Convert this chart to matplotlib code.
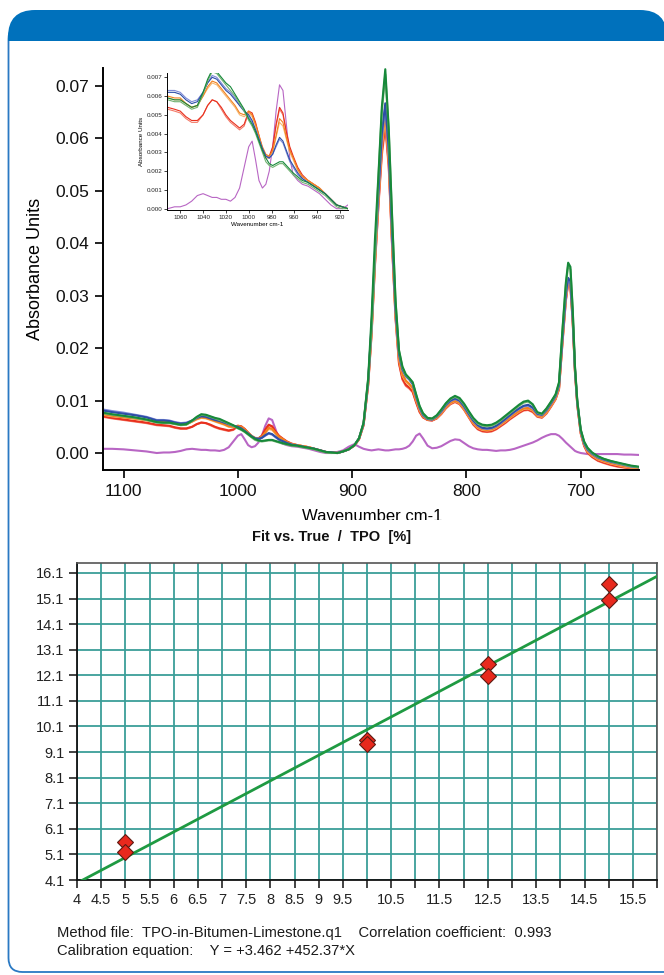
import numpy as np
import matplotlib
matplotlib.use("Agg")
import matplotlib.pyplot as plt
from matplotlib.patches import FancyBboxPatch, Rectangle
from matplotlib.transforms import Bbox, TransformedBbox

# ---------------- data: spectra ----------------
wavenumber = [
    1118, 1110, 1100, 1090, 1080, 1071, 1065, 1060, 1055, 1050,
    1045, 1040, 1036, 1032, 1028, 1024, 1020, 1016, 1012, 1008,
    1004, 1000, 997, 994, 991, 988, 985, 982, 979, 976,
    973, 970, 967, 964, 961, 957, 953, 948, 943, 938,
    933, 928, 923, 918, 913, 908, 903, 898, 894, 890,
    886, 883, 880, 877, 874, 871, 868, 865, 862, 859,
    856, 853, 850, 847, 844, 841, 838, 834, 830, 826,
    822, 818, 814, 810, 806, 802, 798, 794, 790, 786,
    782, 778, 774, 770, 766, 762, 758, 754, 750, 746,
    742, 738, 734, 730, 726, 722, 719, 716, 713, 711,
    709, 707, 705, 703, 700, 697, 694, 690, 685, 680,
    674, 668, 662, 656, 646]

abs_purple = [
    .0008, .0008, .0007, .0005, .0003, .0000, .0001, .0001, .0002, .0004,
    .0007, .0008, .0007, .0006, .0006, .0005, .0005, .0004, .0006, .0011,
    .0022, .0033, .0036, .0026, .0015, .0011, .0013, .0020, .0033, .0052,
    .0066, .0063, .0045, .0027, .0018, .0015, .0013, .0012, .0010, .0008,
    .0005, .0002, .0000, .0000, .0002, .0005, .0012, .0017, .0012, .0008,
    .0006, .0005, .0006, .0007, .0006, .0005, .0005, .0006, .0007, .0007,
    .0008, .0010, .0014, .0022, .0033, .0037, .0028, .0014, .0009, .0010,
    .0013, .0018, .0023, .0026, .0025, .0019, .0013, .0009, .0007, .0006,
    .0006, .0005, .0004, .0005, .0005, .0006, .0008, .0011, .0014, .0017,
    .0020, .0024, .0029, .0033, .0036, .0036, .0033, .0027, .0020, .0016,
    .0012, .0008, .0004, .0002, .0000, -.0001, -.0002, -.0002, -.0002, -.0002,
    -.0002, -.0002, -.0003, -.0003, -.0004]

abs_salmon = [
    .0069, .0066, .0063, .0060, .0057, .0053, .0052, .0051, .0048, .0046,
    .0046, .0050, .0055, .0058, .0057, .0053, .0049, .0046, .0044, .0042,
    .0044, .0051, .0050, .0045, .0038, .0031, .0027, .0027, .0032, .0044,
    .0053, .0050, .0040, .0032, .0027, .0021, .0017, .0015, .0013, .0011,
    .0008, .0005, .0002, .0001, .0000, .0003, .0007, .0014, .0026, .0053,
    .0128, .0225, .0358, .0470, .0568, .0622, .0545, .0392, .0255, .0170,
    .0140, .0128, .0123, .0116, .0096, .0078, .0068, .0063, .0062, .0066,
    .0074, .0085, .0093, .0097, .0093, .0082, .0068, .0054, .0045, .0041,
    .0040, .0041, .0045, .0051, .0057, .0064, .0070, .0076, .0081, .0082,
    .0078, .0069, .0067, .0075, .0088, .0102, .0121, .0208, .0290, .0322,
    .0316, .0248, .0153, .0091, .0037, .0013, .0000, -.0008, -.0015, -.0019,
    -.0023, -.0026, -.0028, -.0029, -.0030]

abs_red = [
    .0070, .0067, .0064, .0061, .0058, .0054, .0053, .0052, .0049, .0047,
    .0047, .0050, .0055, .0058, .0057, .0054, .0050, .0047, .0045, .0043,
    .0045, .0052, .0051, .0046, .0039, .0032, .0028, .0028, .0033, .0045,
    .0054, .0051, .0041, .0033, .0028, .0022, .0018, .0015, .0013, .0011,
    .0008, .0005, .0002, .0001, .0000, .0003, .0007, .0014, .0026, .0053,
    .0130, .0228, .0362, .0475, .0575, .0630, .0550, .0395, .0258, .0172,
    .0142, .0130, .0125, .0117, .0097, .0079, .0068, .0063, .0062, .0066,
    .0075, .0086, .0094, .0098, .0094, .0083, .0069, .0055, .0046, .0042,
    .0041, .0042, .0046, .0052, .0058, .0065, .0071, .0077, .0082, .0083,
    .0079, .0070, .0068, .0076, .0089, .0103, .0122, .0210, .0292, .0324,
    .0318, .0250, .0154, .0092, .0038, .0014, .0001, -.0007, -.0014, -.0018,
    -.0022, -.0025, -.0027, -.0029, -.0030]

abs_lightorange = [
    .0073, .0070, .0068, .0065, .0062, .0059, .0058, .0058, .0056, .0054,
    .0055, .0060, .0064, .0067, .0066, .0063, .0060, .0057, .0054, .0050,
    .0049, .0051, .0049, .0044, .0038, .0032, .0028, .0027, .0030, .0038,
    .0046, .0044, .0037, .0030, .0026, .0020, .0017, .0015, .0013, .0011,
    .0008, .0005, .0002, .0001, .0000, .0003, .0007, .0015, .0027, .0055,
    .0132, .0232, .0368, .0482, .0585, .0640, .0558, .0400, .0262, .0178,
    .0148, .0136, .0130, .0122, .0101, .0082, .0070, .0064, .0063, .0067,
    .0076, .0087, .0095, .0099, .0095, .0084, .0070, .0057, .0048, .0044,
    .0043, .0044, .0048, .0054, .0060, .0067, .0073, .0079, .0084, .0085,
    .0081, .0071, .0069, .0077, .0090, .0104, .0124, .0212, .0295, .0328,
    .0321, .0253, .0156, .0094, .0040, .0016, .0003, -.0005, -.0012, -.0016,
    -.0020, -.0023, -.0026, -.0028, -.0029]

abs_orange = [
    .0074, .0071, .0068, .0066, .0063, .0060, .0059, .0059, .0056, .0054,
    .0055, .0060, .0065, .0068, .0067, .0064, .0061, .0058, .0055, .0051,
    .0050, .0052, .0050, .0045, .0039, .0033, .0029, .0028, .0031, .0039,
    .0048, .0046, .0038, .0031, .0027, .0021, .0017, .0015, .0013, .0011,
    .0008, .0005, .0002, .0001, .0000, .0003, .0007, .0015, .0027, .0055,
    .0133, .0235, .0372, .0488, .0592, .0648, .0565, .0405, .0265, .0180,
    .0150, .0138, .0132, .0124, .0102, .0083, .0070, .0064, .0063, .0068,
    .0077, .0088, .0096, .0100, .0096, .0085, .0071, .0058, .0049, .0045,
    .0044, .0045, .0049, .0055, .0061, .0068, .0074, .0080, .0085, .0086,
    .0082, .0072, .0070, .0078, .0091, .0105, .0125, .0215, .0298, .0330,
    .0323, .0255, .0157, .0095, .0041, .0017, .0004, -.0004, -.0011, -.0015,
    -.0019, -.0022, -.0025, -.0027, -.0029]

abs_lightblue = [
    .0083, .0080, .0077, .0073, .0069, .0063, .0063, .0062, .0059, .0057,
    .0058, .0062, .0067, .0071, .0070, .0067, .0064, .0062, .0059, .0055,
    .0052, .0049, .0046, .0042, .0037, .0032, .0028, .0027, .0029, .0033,
    .0037, .0035, .0030, .0025, .0022, .0018, .0016, .0014, .0012, .0010,
    .0008, .0005, .0002, .0001, .0000, .0003, .0007, .0015, .0028, .0056,
    .0135, .0240, .0378, .0495, .0602, .0660, .0575, .0415, .0272, .0188,
    .0158, .0146, .0140, .0131, .0107, .0086, .0072, .0065, .0064, .0070,
    .0079, .0091, .0099, .0103, .0099, .0088, .0074, .0061, .0052, .0047,
    .0046, .0047, .0051, .0057, .0064, .0071, .0078, .0084, .0089, .0090,
    .0085, .0074, .0072, .0081, .0094, .0108, .0128, .0218, .0300, .0330,
    .0324, .0257, .0158, .0096, .0042, .0018, .0006, -.0002, -.0009, -.0013,
    -.0017, -.0020, -.0023, -.0026, -.0028]

abs_blue = [
    .0081, .0078, .0075, .0072, .0068, .0062, .0062, .0061, .0058, .0056,
    .0057, .0062, .0067, .0070, .0069, .0066, .0063, .0061, .0058, .0055,
    .0052, .0050, .0047, .0042, .0037, .0032, .0028, .0027, .0029, .0034,
    .0038, .0036, .0031, .0026, .0023, .0019, .0016, .0014, .0012, .0010,
    .0008, .0005, .0002, .0001, .0000, .0003, .0007, .0015, .0028, .0056,
    .0137, .0245, .0385, .0500, .0610, .0667, .0580, .0420, .0275, .0190,
    .0160, .0147, .0141, .0132, .0108, .0087, .0073, .0065, .0064, .0070,
    .0080, .0092, .0100, .0104, .0100, .0089, .0075, .0062, .0053, .0048,
    .0047, .0048, .0052, .0058, .0065, .0072, .0079, .0085, .0090, .0092,
    .0087, .0075, .0073, .0082, .0095, .0109, .0130, .0220, .0305, .0334,
    .0328, .0260, .0160, .0097, .0043, .0019, .0007, -.0001, -.0008, -.0012,
    -.0016, -.0019, -.0022, -.0025, -.0028]

abs_lightgreen = [
    .0076, .0073, .0070, .0067, .0063, .0058, .0057, .0057, .0055, .0053,
    .0054, .0061, .0068, .0073, .0072, .0069, .0066, .0063, .0060, .0056,
    .0052, .0047, .0044, .0040, .0035, .0030, .0025, .0023, .0022, .0023,
    .0024, .0024, .0022, .0020, .0018, .0016, .0014, .0013, .0011, .0009,
    .0007, .0004, .0001, .0000, .0000, .0003, .0007, .0015, .0028, .0057,
    .0140, .0238, .0376, .0525, .0652, .0722, .0615, .0445, .0287, .0195,
    .0163, .0148, .0142, .0134, .0111, .0089, .0075, .0066, .0065, .0071,
    .0082, .0094, .0103, .0107, .0103, .0092, .0078, .0065, .0056, .0052,
    .0051, .0052, .0056, .0062, .0069, .0076, .0083, .0090, .0096, .0098,
    .0092, .0077, .0074, .0084, .0097, .0111, .0133, .0232, .0320, .0358,
    .0350, .0272, .0163, .0099, .0044, .0021, .0009, .0000, -.0007, -.0011,
    -.0015, -.0019, -.0022, -.0025, -.0028]

abs_green = [
    .0077, .0074, .0071, .0068, .0064, .0059, .0058, .0058, .0056, .0054,
    .0055, .0062, .0069, .0074, .0073, .0070, .0067, .0065, .0061, .0057,
    .0053, .0048, .0045, .0041, .0036, .0031, .0027, .0024, .0023, .0024,
    .0025, .0025, .0023, .0021, .0019, .0017, .0015, .0014, .0012, .0010,
    .0008, .0005, .0002, .0001, .0000, .0003, .0007, .0015, .0028, .0058,
    .0142, .0260, .0410, .0530, .0660, .0732, .0620, .0450, .0290, .0196,
    .0165, .0150, .0143, .0135, .0112, .0090, .0076, .0067, .0066, .0072,
    .0083, .0095, .0104, .0109, .0105, .0094, .0080, .0067, .0058, .0054,
    .0053, .0054, .0058, .0064, .0071, .0078, .0085, .0092, .0098, .0100,
    .0093, .0078, .0075, .0085, .0098, .0112, .0135, .0235, .0325, .0363,
    .0355, .0275, .0165, .0100, .0045, .0022, .0010, .0001, -.0006, -.0011,
    -.0015, -.0018, -.0021, -.0024, -.0027]

series_order = ["purple", "salmon", "red", "lightorange", "orange",
                "lightblue", "blue", "lightgreen", "green"]
series_values = {"purple": abs_purple, "salmon": abs_salmon, "red": abs_red,
                 "lightorange": abs_lightorange, "orange": abs_orange,
                 "lightblue": abs_lightblue, "blue": abs_blue,
                 "lightgreen": abs_lightgreen, "green": abs_green}
series_colors = {"purple": "#b866c4", "salmon": "#f47a68", "red": "#e8301e",
                 "lightorange": "#f7b870", "orange": "#f2801e",
                 "lightblue": "#7f8ad8", "blue": "#2d4ea6",
                 "lightgreen": "#72b272", "green": "#17893a"}

main_xticks = [1100, 1000, 900, 800, 700]
main_yticks = [0.00, 0.01, 0.02, 0.03, 0.04, 0.05, 0.06, 0.07]
inset_xticks = [1060, 1040, 1020, 1000, 980, 960, 940, 920]
inset_yticks = [0.000, 0.001, 0.002, 0.003, 0.004, 0.005, 0.006, 0.007]

# ---------------- data: calibration ----------------
true_tpo = [5, 5, 10, 10, 12.5, 12.5, 15, 15]
fit_tpo = [5.58, 5.20, 9.56, 9.43, 12.54, 12.07, 15.65, 15.06]
fit_line_x = [4.0, 16.0]
fit_line_y = [3.98, 15.97]
cal_xticks = [4, 4.5, 5, 5.5, 6, 6.5, 7, 7.5, 8, 8.5, 9, 9.5, 10, 10.5, 11,
              11.5, 12, 12.5, 13, 13.5, 14, 14.5, 15, 15.5, 16]
cal_xticklabels = ["4", "4.5", "5", "5.5", "6", "6.5", "7", "7.5", "8", "8.5",
                   "9", "9.5", "", "10.5", "", "11.5", "", "12.5", "", "13.5",
                   "", "14.5", "", "15.5", ""]
cal_yticks = [4.1, 5.1, 6.1, 7.1, 8.1, 9.1, 10.1, 11.1, 12.1, 13.1, 14.1, 15.1, 16.1]
cal_yticklabels = ["4.1", "5.1", "6.1", "7.1", "8.1", "9.1", "10.1", "11.1",
                   "12.1", "13.1", "14.1", "15.1", "16.1"]

# ---------------- fonts ----------------
plt.rcParams["font.family"] = ["Liberation Sans", "DejaVu Sans"]

W, H = 664, 975
fig = plt.figure(figsize=(W / 100, H / 100), dpi=100)


def fx(px):
    return px / W


def fy(py):
    return 1 - py / H


# ---------------- background panel ----------------
bg = fig.add_axes([0, 0, 1, 1], zorder=-10)
bg.set_xlim(0, W)
bg.set_ylim(H, 0)
bg.axis("off")
panel = FancyBboxPatch((8.5, 25), 700, 947, boxstyle="round,pad=0,rounding_size=14",
                       fc="white", ec="#2a79c3", lw=1.3)
bg.add_patch(panel)
header = FancyBboxPatch((8, 10), 659, 90, boxstyle="round,pad=0,rounding_size=27",
                        fc="#0071bc", ec="none")
bg.add_patch(header)
header.set_clip_path(Rectangle((0, 0), W, 41, transform=bg.transData))

# ---------------- main spectrum ----------------
ax = fig.add_axes([fx(103), fy(470), fx(639 - 103), (470 - 68) / H])
for name in series_order:
    ax.plot(wavenumber, series_values[name], color=series_colors[name], lw=1.5,
            solid_joinstyle="round")
ax.set_xlim(1118, 649)
ax.set_ylim(-0.00324, 0.07343)
ax.set_xticks(main_xticks)
ax.set_xticklabels([str(v) for v in main_xticks])
ax.set_yticks(main_yticks)
ax.set_yticklabels([f"{v:.2f}" for v in main_yticks])
for s in ["top", "right"]:
    ax.spines[s].set_visible(False)
for s in ["left", "bottom"]:
    ax.spines[s].set_linewidth(1.4)
ax.tick_params(direction="out", length=6, width=1.3, labelsize=12.5, pad=4,
               colors="#111111")
ax.set_ylabel("Absorbance Units", fontsize=13, labelpad=8)

xl = fig.text(fx(372), fy(509), "Wavenumber cm-1", ha="center", va="top", fontsize=12)
xl.set_clip_box(TransformedBbox(Bbox([[0, fy(519.5)], [1, 1]]), fig.transFigure))
xl.set_clip_on(True)

# ---------------- inset ----------------
axi = fig.add_axes([fx(167), fy(210), fx(181), 137 / H])
for name in series_order:
    axi.plot(wavenumber, series_values[name], color=series_colors[name], lw=0.8)
axi.set_xlim(1071.6, 913)
axi.set_ylim(-0.00007, 0.00723)
axi.set_xticks(inset_xticks)
axi.set_xticklabels([str(v) for v in inset_xticks])
axi.set_yticks(inset_yticks)
axi.set_yticklabels([f"{v:.3f}" for v in inset_yticks])
for s in ["top", "right"]:
    axi.spines[s].set_visible(False)
for s in ["left", "bottom"]:
    axi.spines[s].set_linewidth(0.7)
axi.tick_params(direction="out", length=2, width=0.6, labelsize=4.5, pad=1.5,
                colors="#222222")
axi.set_ylabel("Absorbance Units", fontsize=4.5, labelpad=2)
axi.set_xlabel("Wavenumber cm-1", fontsize=4.5, labelpad=1.5)

# ---------------- calibration plot ----------------
fig.text(fx(332), fy(536.5), "Fit vs. True  /  TPO  [%]", ha="center", va="center",
         fontsize=10.5, fontweight="bold", color="#111111")

ax2 = fig.add_axes([fx(77), fy(880), fx(580), 317 / H])
ax2.set_xlim(4.0, 16.0)
ax2.set_ylim(4.1, 16.49)
ax2.set_xticks(cal_xticks)
ax2.set_xticklabels(cal_xticklabels)
ax2.set_yticks(cal_yticks)
ax2.set_yticklabels(cal_yticklabels)
ax2.grid(True, color="#3b9e99", lw=1.3)
ax2.set_axisbelow(True)
ax2.plot(fit_line_x, fit_line_y, color="#1f9a42", lw=2.0, zorder=3)
ax2.plot(true_tpo, fit_tpo, linestyle="none", marker="D", ms=8.5,
         mfc="#e8291d", mec="#5c1a12", mew=0.8, zorder=4)
for s in ["left", "bottom"]:
    ax2.spines[s].set_color("#111111")
    ax2.spines[s].set_linewidth(1.3)
for s in ["top", "right"]:
    ax2.spines[s].set_color("#555555")
    ax2.spines[s].set_linewidth(1.2)
ax2.tick_params(direction="out", length=6, width=1.2, labelsize=10.5, pad=3,
                colors="#222222")

fig.text(fx(57), fy(933), "Method file:  TPO-in-Bitumen-Limestone.q1    Correlation coefficient:  0.993",
         ha="left", va="center", fontsize=10.6, color="#1a1a1a")
fig.text(fx(57), fy(951), "Calibration equation:    Y = +3.462 +452.37*X",
         ha="left", va="center", fontsize=10.6, color="#1a1a1a")

fig.savefig("out.png", dpi=100)
